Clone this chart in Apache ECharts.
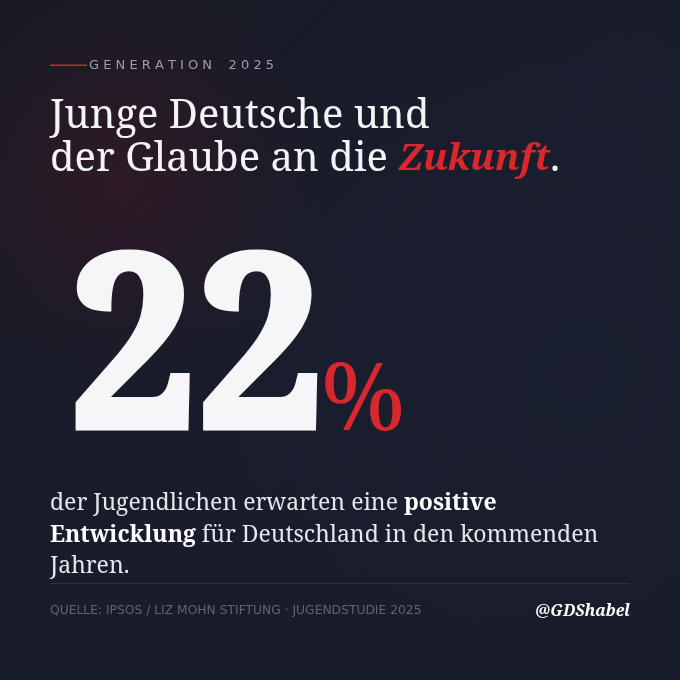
<!DOCTYPE html>
<html>
<head>
<meta charset="utf-8">
<script src="https://cdn.jsdelivr.net/npm/echarts@6/dist/echarts.min.js"></script>
<style>
html,body{margin:0;padding:0;background:#171a27;}
#c{width:680px;height:680px;}
</style>
</head>
<body>
<div id="c"></div>
<script>
// ---- data ----
const kicker = ['GENERATION 2025'];
const titleLines = ['Junge Deutsche und', 'der Glaube an die ', 'Zukunft', '.'];
const statValue = [22];
const statUnit = ['%'];
const bodyLines = [
  ['der Jugendlichen erwarten eine ', 'positive'],
  ['Entwicklung', ' für Deutschland in den kommenden'],
  ['Jahren.']
];
const boldWords = ['positive', 'Entwicklung'];
const sourceText = ['QUELLE: IPSOS / LIZ MOHN STIFTUNG · JUGENDSTUDIE 2025'];
const handle = ['@GDShabel'];

const SERIF = 'Noto Serif';
const SANS = 'DejaVu Sans';
const RED = '#d8272d';

function spaced(s) {
  return s.split('').map(c => c === ' ' ? '  ' : c).join(' ');
}

const chart = echarts.init(document.getElementById('c'), null, {renderer: 'canvas'});

const option = {
  backgroundColor: '#171a27',
  animation: false,
  graphic: [
    { type: 'rect', shape: {x: 0, y: 0, width: 680, height: 680}, silent: true,
      style: { fill: new echarts.graphic.LinearGradient(0, 0, 1, 1, [
        {offset: 0, color: '#191a24'}, {offset: 0.5, color: '#181c2b'}, {offset: 1, color: '#171b28'}]) } },
    { type: 'rect', shape: {x: 0, y: 0, width: 680, height: 680}, silent: true,
      style: { fill: new echarts.graphic.RadialGradient(0.18, 0.27, 0.3, [
        {offset: 0, color: 'rgba(90,25,35,0.32)'}, {offset: 1, color: 'rgba(90,25,35,0)'}]) } },
    { type: 'rect', shape: {x: 0, y: 0, width: 680, height: 680}, silent: true,
      style: { fill: new echarts.graphic.RadialGradient(0.85, 0.55, 0.6, [
        {offset: 0, color: 'rgba(40,48,70,0.22)'}, {offset: 1, color: 'rgba(40,48,70,0)'}]) } },
    // kicker
    { type: 'rect', shape: {x: 50, y: 64.5, width: 37, height: 1.5}, style: {fill: '#c8283a'} },
    { type: 'text', x: 89, y: 66, style: { text: spaced(kicker[0]), font: '13px "' + SANS + '"', fill: '#9a9fb0',
      align: 'left', verticalAlign: 'middle' } },
    // title
    { type: 'text', x: 50, y: 95, style: {
      text: '{n|' + titleLines[0] + '}\n{n|' + titleLines[1] + '}{z|' + titleLines[2] + '}{n|' + titleLines[3] + '}',
      align: 'left', verticalAlign: 'top',
      rich: {
        n: { fontFamily: SERIF, fontSize: 40, lineHeight: 43, fill: '#f4f4f6' },
        z: { fontFamily: SERIF, fontSize: 37, lineHeight: 43, fontWeight: 'bold', fontStyle: 'italic', fill: RED }
      } } },
    // big stat
    { type: 'text', x: 69, y: 359, scaleX: 0.94, style: { text: String(statValue[0]), font: 'bold 240px "' + SERIF + '"',
      fill: '#f6f6f8', stroke: '#f6f6f8', lineWidth: 7, lineJoin: 'round',
      align: 'left', verticalAlign: 'middle' } },
    { type: 'text', x: 321, y: 403, style: { text: statUnit[0], font: '94px "' + SERIF + '"',
      fill: RED, align: 'left', verticalAlign: 'middle' } },
    // body
    { type: 'text', x: 50, y: 488, style: {
      text: bodyLines.map(l => l.map(p => '{' + (boldWords.indexOf(p) >= 0 ? 'b' : 'r') + '|' + p + '}').join('')).join('\n'),
      align: 'left', verticalAlign: 'top',
      rich: {
        r: { fontFamily: SERIF, fontSize: 23, lineHeight: 31.5, fill: '#e6e7ec' },
        b: { fontFamily: SERIF, fontSize: 23, lineHeight: 31.5, fontWeight: 'bold', fill: '#ffffff' }
      } } },
    // separator
    { type: 'line', shape: {x1: 50, y1: 583.5, x2: 630, y2: 583.5}, style: {stroke: '#2c3142', lineWidth: 1} },
    // footer
    { type: 'text', x: 50, y: 611, style: { text: sourceText[0], font: '12.3px "' + SANS + '"', fill: '#5d6477',
      align: 'left', verticalAlign: 'middle' } },
    { type: 'text', x: 630, y: 611, style: { text: handle[0], font: 'italic bold 16px "' + SERIF + '"', fill: '#ffffff',
      align: 'right', verticalAlign: 'middle' } }
  ]
};
chart.setOption(option);
</script>
</body>
</html>
